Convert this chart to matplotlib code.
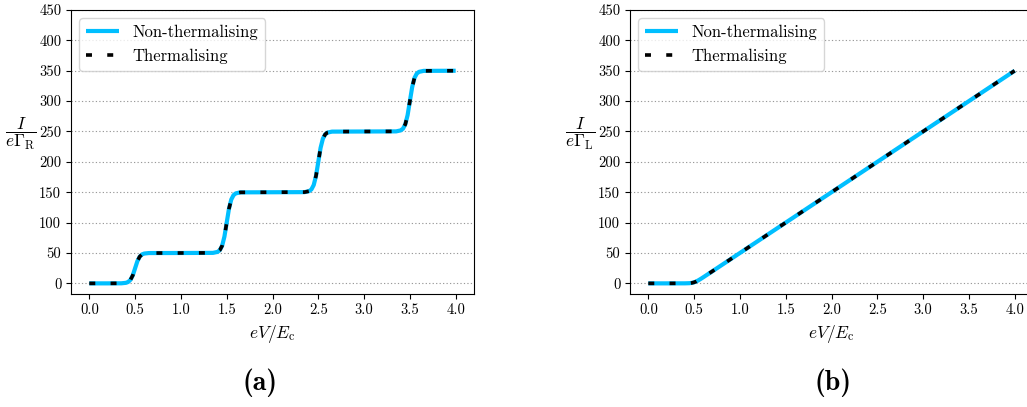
import matplotlib
matplotlib.use("Agg")
import matplotlib.pyplot as plt

plt.rcParams['font.family'] = ['cmr10', 'DejaVu Serif']
plt.rcParams['mathtext.fontset'] = 'cm'
plt.rcParams['axes.unicode_minus'] = False
plt.rcParams['axes.formatter.use_mathtext'] = True

# ---- data ----
V_a = [0.00, 0.20,
       0.35, 0.40, 0.425, 0.45, 0.475, 0.50, 0.525, 0.55, 0.575, 0.60, 0.65,
       1.00,
       1.35, 1.40, 1.425, 1.45, 1.475, 1.50, 1.525, 1.55, 1.575, 1.60, 1.65,
       2.00,
       2.35, 2.40, 2.425, 2.45, 2.475, 2.50, 2.525, 2.55, 2.575, 2.60, 2.65,
       3.00,
       3.35, 3.40, 3.425, 3.45, 3.475, 3.50, 3.525, 3.55, 3.575, 3.60, 3.65,
       4.00]
I_a_nontherm = [0, 0,
                0.1, 0.9, 2.4, 6.0, 13.4, 25.0, 36.6, 44.0, 47.6, 49.1, 49.9,
                50,
                50.2, 51.8, 54.7, 61.9, 76.9, 100, 123.1, 138.1, 145.3, 148.2, 149.8,
                150,
                150.2, 151.8, 154.7, 161.9, 176.9, 200, 223.1, 238.1, 245.3, 248.2, 249.8,
                250,
                250.2, 251.8, 254.7, 261.9, 276.9, 300, 323.1, 338.1, 345.3, 348.2, 349.8,
                350]
I_a_therm = [0, 0,
             0.1, 0.9, 2.4, 6.0, 13.4, 25.0, 36.6, 44.0, 47.6, 49.1, 49.9,
             50,
             50.2, 51.8, 54.7, 61.9, 76.9, 100, 123.1, 138.1, 145.3, 148.2, 149.8,
             150,
             150.2, 151.8, 154.7, 161.9, 176.9, 200, 223.1, 238.1, 245.3, 248.2, 249.8,
             250,
             250.2, 251.8, 254.7, 261.9, 276.9, 300, 323.1, 338.1, 345.3, 348.2, 349.8,
             350]

V_b = [0.00, 0.20, 0.40, 0.45, 0.475, 0.50, 0.525, 0.55, 0.575, 0.60, 0.65,
       0.75, 1.00, 1.50, 2.00, 2.50, 3.00, 3.50, 4.00]
I_b_nontherm = [0, 0, 0.05, 0.32, 0.78, 1.73, 3.28, 5.32, 7.62, 10.05, 15.0,
                25, 50, 100, 150, 200, 250, 300, 350]
I_b_therm = [0, 0, 0.05, 0.32, 0.78, 1.73, 3.28, 5.32, 7.62, 10.05, 15.0,
             25, 50, 100, 150, 200, 250, 300, 350]

yticks = [0, 50, 100, 150, 200, 250, 300, 350, 400, 450]
xticks = [0.0, 0.5, 1.0, 1.5, 2.0, 2.5, 3.0, 3.5, 4.0]
series_labels = ['Non-thermalising', 'Thermalising']
ylabels = [r'$\dfrac{I}{e\Gamma_\mathrm{R}}$', r'$\dfrac{I}{e\Gamma_\mathrm{L}}$']
captions = ['(a)', '(b)']

W, H = 1027, 407
fig = plt.figure(figsize=(W / 100, H / 100), dpi=100)

def px_axes(left, right, top, bottom):
    return fig.add_axes([left / W, 1 - bottom / H, (right - left) / W, (bottom - top) / H])

ax_a = px_axes(71, 474, 10, 294)
ax_b = px_axes(630, 1033, 10, 294)

cyan = '#00BFFF'
plt.rcParams['lines.scale_dashes'] = False

panels = [(ax_a, V_a, I_a_nontherm, I_a_therm, ylabels[0]),
          (ax_b, V_b, I_b_nontherm, I_b_therm, ylabels[1])]
for ax, V, I1, I2, ylab in panels:
    ax.plot(V, I1, color=cyan, lw=3.0, label=series_labels[0], solid_capstyle='butt')
    ax.plot(V, I2, color='black', lw=2.6, dashes=(4.3, 11.0), label=series_labels[1])
    ax.set_xlim(-0.2, 4.2)
    ax.set_ylim(-17.5, 450)
    ax.set_xticks(xticks)
    ax.set_yticks(yticks)
    ax.set_xticklabels([f'{t:.1f}' for t in xticks])
    ax.set_yticklabels([str(t) for t in yticks])
    ax.tick_params(labelsize=10.5)
    ax.yaxis.grid(True, linestyle=(0, (0.9, 1.6)), color='#999999', linewidth=0.8)
    ax.set_axisbelow(True)
    ax.set_xlabel(r'$eV/E_\mathrm{c}$', fontsize=12.5)
    ax.set_ylabel(ylab, rotation=0, fontsize=12.5)
    ax.yaxis.set_label_coords(-50 / 403, 0.5)
    ax.legend(loc='upper left', fontsize=12)

fig.text(260 / W, 1 - 383 / H, captions[0], ha='center', va='center',
         fontsize=20, family=['cmb10', 'DejaVu Serif'])
fig.text(833 / W, 1 - 383 / H, captions[1], ha='center', va='center',
         fontsize=20, family=['cmb10', 'DejaVu Serif'])

fig.savefig('out.png', dpi=100)
